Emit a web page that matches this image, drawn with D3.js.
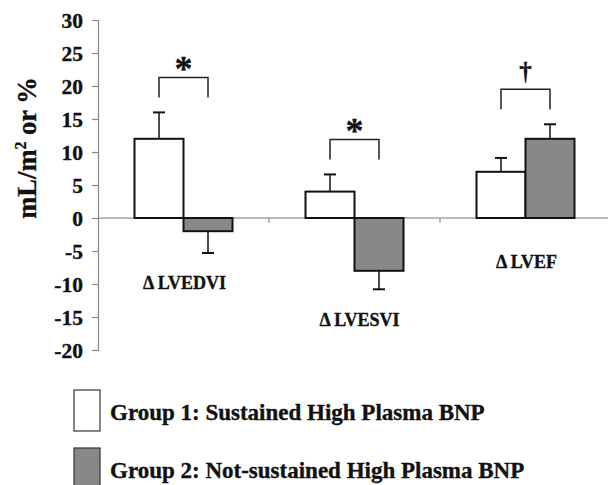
<!DOCTYPE html>
<html>
<head>
<meta charset="utf-8">
<script src="https://cdn.jsdelivr.net/npm/d3@7"></script>
<style>
	body { margin: 0; background: #fff; }
	svg text { font-family: "Liberation Serif", "Times New Roman", serif; font-weight: bold; fill: #111; stroke: #111; stroke-width: 0.35px; }
</style>
</head>
<body>
<div id="chart"></div>
<script>
// Chart values
var categories = ["\u0394 LVEDVI", "\u0394 LVESVI", "\u0394 LVEF"];
var groups = ["Group 1: Sustained High Plasma BNP", "Group 2: Not-sustained High Plasma BNP"];
var group1 = [12, 4, 7];
var group2 = [-2, -8, 12];
var group1Err = [16, 6.6, 9.1];
var group2Err = [-5.3, -10.8, 14.2];
var signif = ["*", "*", "\u2020"];
var labelAt = [-10.7, -16.3, -7.5];
var yTicks = [30, 25, 20, 15, 10, 5, 0, -5, -10, -15, -20];

var width = 608, height = 485;
var colors = ["#ffffff", "#888888"];

var svg = d3.select('#chart').append('svg')
	.attr('width', width)
	.attr('height', height);

// Scales
var y = d3.scaleLinear().domain([-20, 30]).range([350, 20]);
var x = d3.scaleBand().domain(categories).range([98, 611]).paddingInner(0).paddingOuter(0);
var xSub = d3.scaleBand().domain([0, 1]).range([0, x.bandwidth()]).paddingInner(0).paddingOuter(0.745);

// y axis (ticks only, labels drawn below in serif bold)
var yAxis = svg.append('g')
	.attr('transform', 'translate(98,0)')
	.call(d3.axisLeft(y).tickValues(yTicks).tickSize(6).tickFormat(''));
yAxis.select('.domain').attr('stroke', '#888').attr('stroke-width', 1.2);
yAxis.selectAll('.tick line').attr('stroke', '#888').attr('stroke-width', 1.2);

svg.selectAll('.ylab')
	.data(yTicks)
	.enter().append('text')
	.attr('class', 'ylab')
	.attr('x', 83)
	.attr('y', function(d) { return y(d); })
	.attr('dy', '0.35em')
	.attr('text-anchor', 'end')
	.attr('font-size', 21.5)
	.text(function(d) { return String(d); });

// y label
svg.append('text')
	.attr('transform', 'translate(36,' + 148 + ') rotate(-90)')
	.attr('text-anchor', 'middle')
	.attr('font-size', 26.5)
	.html('mL/m<tspan dy="-10" font-size="16">2</tspan><tspan dy="10"> or %</tspan>');

// zero line
svg.append('line')
	.attr('x1', 98).attr('x2', 608)
	.attr('y1', y(0)).attr('y2', y(0))
	.attr('stroke', '#777').attr('stroke-width', 1.2);

// category ticks between groups
svg.selectAll('.ctick')
	.data(categories.slice(1))
	.enter().append('line')
	.attr('x1', function(d) { return x(d); })
	.attr('x2', function(d) { return x(d); })
	.attr('y1', y(0))
	.attr('y2', y(0) + 5)
	.attr('stroke', '#777');

// Build rows
var rows = categories.map(function(c, i) {
	return { cat: c, vals: [group1[i], group2[i]], errs: [group1Err[i], group2Err[i]], sig: signif[i], lab: labelAt[i] };
});

var cg = svg.selectAll('.cat')
	.data(rows)
	.enter().append('g')
	.attr('transform', function(d) { return 'translate(' + x(d.cat) + ',0)'; });

// error bars (behind bars)
cg.each(function(d) {
	var g = d3.select(this);
	d.vals.forEach(function(v, j) {
		var cx = xSub(j) + xSub.bandwidth() / 2;
		g.append('line')
			.attr('x1', cx).attr('x2', cx)
			.attr('y1', y(v)).attr('y2', y(d.errs[j]))
			.attr('stroke', '#111').attr('stroke-width', 1.5);
		g.append('line')
			.attr('x1', cx - 6).attr('x2', cx + 6)
			.attr('y1', y(d.errs[j])).attr('y2', y(d.errs[j]))
			.attr('stroke', '#111').attr('stroke-width', 2);
	});
});

// bars
cg.selectAll('rect')
	.data(function(d) { return d.vals; })
	.enter().append('rect')
	.attr('x', function(d, j) { return xSub(j); })
	.attr('width', xSub.bandwidth())
	.attr('y', function(d) { return y(Math.max(0, d)); })
	.attr('height', function(d) { return Math.abs(y(d) - y(0)); })
	.attr('fill', function(d, j) { return colors[j]; })
	.attr('stroke', '#111')
	.attr('stroke-width', 2);

// significance brackets and category labels
cg.each(function(d, i) {
	var g = d3.select(this);
	var top = y(d3.max(d.errs)) - 35;
	var x1 = xSub(0) + xSub.bandwidth() / 2;
	var x2 = xSub(1) + xSub.bandwidth() / 2;
	g.append('path')
		.attr('d', 'M' + x1 + ',' + (top + 20) + 'V' + top + 'H' + x2 + 'V' + (top + 20))
		.attr('fill', 'none')
		.attr('stroke', '#222')
		.attr('stroke-width', 1.5);
	g.append('text')
		.attr('x', (x1 + x2) / 2)
		.attr('y', d.sig == '*' ? top + 4 : top - 9)
		.attr('text-anchor', 'middle')
		.attr('font-size', d.sig == '*' ? 36 : 25)
		.text(d.sig);
	g.append('text')
		.attr('x', x.bandwidth() / 2 + (i == 1 ? 5 : 1))
		.attr('y', y(d.lab))
		.attr('text-anchor', 'middle')
		.attr('font-size', 18)
		.text(d.cat);
});

// legend
var lg = svg.selectAll('.legend')
	.data(groups)
	.enter().append('g')
	.attr('transform', function(d, i) { return 'translate(74,' + (390 + i * 58) + ')'; });
lg.append('rect')
	.attr('width', 26).attr('height', 41)
	.attr('fill', function(d, i) { return colors[i]; })
	.attr('stroke', '#333').attr('stroke-width', 1.2);
lg.append('text')
	.attr('x', 36).attr('y', 30)
	.attr('font-size', 23)
	.text(function(d) { return d; });
</script>
</body>
</html>
